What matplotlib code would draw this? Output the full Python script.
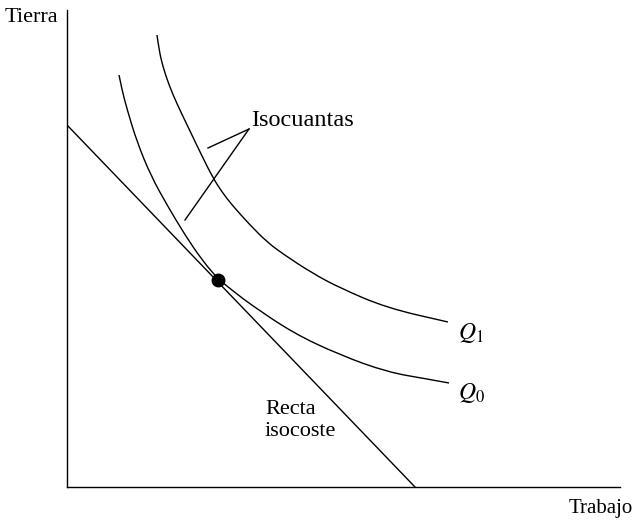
import matplotlib
matplotlib.use("Agg")
import matplotlib.pyplot as plt
from matplotlib.path import Path
from matplotlib.patches import PathPatch

# isocuanta Q1 (exterior)
q1_x = [90, 92, 96, 102, 110, 123, 134, 146, 155, 165, 183, 200, 216, 245, 273, 320, 381]
q1_y = [452, 437, 420, 402, 383, 356, 333, 309, 295, 282, 262, 245, 233, 214, 199, 179, 165]

# isocuanta Q0 (interior)
q0_x = [52, 55, 60, 70, 84, 100, 118, 135, 151, 170, 183, 226, 273, 320, 360, 382]
q0_y = [412, 397, 378, 345, 311, 282, 252, 227, 208, 193, 183, 154, 132, 115, 108, 104]

# recta isocoste
iso_x = [0, 348]
iso_y = [362, 0]

# punto de tangencia
tan_x = [151]
tan_y = [207]

# lineas guia de "Isocuantas"
guia1_x = [182, 141]
guia1_y = [358, 339]
guia2_x = [182, 118]
guia2_y = [358, 267]

plt.rcParams['mathtext.fontset'] = 'stix'
plt.rcParams['font.family'] = ['Liberation Serif', 'DejaVu Serif']


def curva_suave(ax, xs, ys):
    # curva suave con beziers cuadraticos entre puntos medios
    verts = [(xs[0], ys[0])]
    codes = [Path.MOVETO]
    for i in range(1, len(xs) - 1):
        mx = (xs[i] + xs[i + 1]) / 2
        my = (ys[i] + ys[i + 1]) / 2
        verts += [(xs[i], ys[i]), (mx, my)]
        codes += [Path.CURVE3, Path.CURVE3]
    verts.append((xs[-1], ys[-1]))
    codes.append(Path.LINETO)
    ax.add_patch(PathPatch(Path(verts, codes), fill=False, lw=1.0, color='black'))


fig = plt.figure(figsize=(6.34, 5.21), dpi=100)
ax = fig.add_axes([67 / 634, 34 / 521, 553 / 634, 477 / 521])
ax.set_xlim(0, 553)
ax.set_ylim(0, 477)
for s in ['top', 'right']:
    ax.spines[s].set_visible(False)
for s in ['left', 'bottom']:
    ax.spines[s].set_linewidth(1.0)
ax.set_xticks([])
ax.set_yticks([])

curva_suave(ax, q1_x, q1_y)
curva_suave(ax, q0_x, q0_y)
ax.plot(iso_x, iso_y, color='black', lw=1.0)
ax.plot(guia1_x, guia1_y, color='black', lw=1.0)
ax.plot(guia2_x, guia2_y, color='black', lw=1.0)
ax.plot(tan_x, tan_y, 'o', color='black', ms=9)

ax.text(184, 367, 'Isocuantas', fontsize=17.5, va='center', ha='left')
ax.text(391, 154, '$Q_1$', fontsize=17, va='center', ha='left')
ax.text(391, 94, '$Q_0$', fontsize=17, va='center', ha='left')
ax.text(198, 77, 'Recta', fontsize=16, va='center', ha='left')
ax.text(198, 55, 'isocoste', fontsize=16, va='center', ha='left')
ax.text(-62, 469, 'Tierra', fontsize=16, va='center', ha='left', clip_on=False)
ax.text(566, -21, 'Trabajo', fontsize=15, va='center', ha='right', clip_on=False)

fig.savefig('out.png', dpi=100)
